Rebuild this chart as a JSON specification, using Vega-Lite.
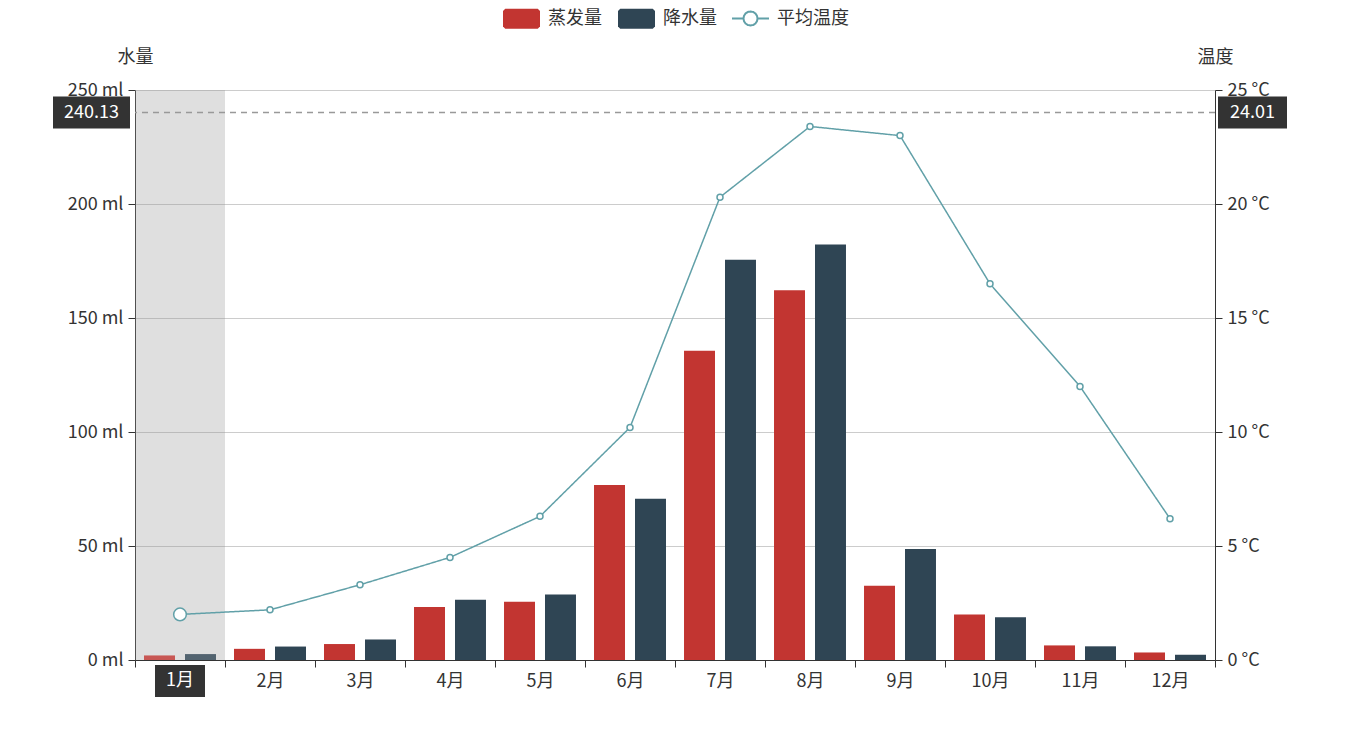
{
  "$schema": "https://vega.github.io/schema/vega-lite/v6.json",
  "width": 1080,
  "height": 570,
  "autosize": {"type": "none"},
  "padding": {"left": 135, "top": 90, "right": 135, "bottom": 90},
  "background": "white",
  "config": {
    "font": "Noto Sans CJK SC",
    "view": {"stroke": null},
    "axis": {
      "zindex": 0,
      "labelFont": "Noto Sans CJK SC",
      "labelFontSize": 18,
      "labelColor": "#333",
      "titleFont": "Noto Sans CJK SC",
      "titleFontSize": 18,
      "titleFontWeight": "normal",
      "titleColor": "#333",
      "domainColor": "#333",
      "tickColor": "#333",
      "tickSize": 7,
      "labelPadding": 5,
      "gridColor": "#cccccc"
    },
    "axisX": {"grid": false, "labelAngle": 0, "tickBand": "extent"},
    "axisY": {"titleAngle": 0, "titleX": 0, "titleY": -33, "titleAlign": "center", "titleBaseline": "middle"},
    "axisLeft": {"grid": true},
    "axisRight": {"grid": false}
  },
  "data": {
    "values": [
      {"month": "1月", "蒸发量": 2.0, "降水量": 2.6, "平均温度": 2.0},
      {"month": "2月", "蒸发量": 4.9, "降水量": 5.9, "平均温度": 2.2},
      {"month": "3月", "蒸发量": 7.0, "降水量": 9.0, "平均温度": 3.3},
      {"month": "4月", "蒸发量": 23.2, "降水量": 26.4, "平均温度": 4.5},
      {"month": "5月", "蒸发量": 25.6, "降水量": 28.7, "平均温度": 6.3},
      {"month": "6月", "蒸发量": 76.7, "降水量": 70.7, "平均温度": 10.2},
      {"month": "7月", "蒸发量": 135.6, "降水量": 175.6, "平均温度": 20.3},
      {"month": "8月", "蒸发量": 162.2, "降水量": 182.2, "平均温度": 23.4},
      {"month": "9月", "蒸发量": 32.6, "降水量": 48.7, "平均温度": 23.0},
      {"month": "10月", "蒸发量": 20.0, "降水量": 18.8, "平均温度": 16.5},
      {"month": "11月", "蒸发量": 6.4, "降水量": 6.0, "平均温度": 12.0},
      {"month": "12月", "蒸发量": 3.3, "降水量": 2.3, "平均温度": 6.2}
    ]
  },
  "layer": [
    {
      "layer": [
        {
          "transform": [{"filter": "datum.month === '1月'"}],
          "mark": {"type": "rect", "color": "#969696", "opacity": 0.3},
          "encoding": {
            "x": {"field": "month", "type": "nominal", "sort": null, "title": null, "scale": {"paddingInner": 0, "paddingOuter": 0}},
            "y": {"datum": 0, "type": "quantitative", "scale": {"domain": [0, 250]}, "title": "水量"},
            "y2": {"datum": 250}
          }
        },
        {
          "transform": [{"fold": ["蒸发量", "降水量"], "as": ["series", "value"]}],
          "mark": {"type": "bar"},
          "encoding": {
            "x": {"field": "month", "type": "nominal", "sort": null, "title": null, "scale": {"paddingInner": 0, "paddingOuter": 0}},
            "xOffset": {"field": "series", "type": "nominal", "scale": {"domain": ["蒸发量", "降水量"], "paddingInner": 0.244, "paddingOuter": 0.22}},
            "y": {
              "field": "value", "type": "quantitative",
              "scale": {"domain": [0, 250]},
              "title": "水量",
              "axis": {"values": [0, 50, 100, 150, 200, 250], "labelExpr": "datum.value + ' ml'", "orient": "left"}
            },
            "color": {
              "field": "series", "type": "nominal",
              "scale": {"domain": ["蒸发量", "降水量"], "range": ["#c23531", "#2f4554"]},
              "legend": {
                "orient": "none",
                "legendX": 367,
                "legendY": -91,
                "direction": "horizontal",
                "title": null,
                "padding": 0,
                "symbolSize": 1369,
                "symbolType": "M-0.88,-0.54H0.88L1,-0.42V0.42L0.88,0.54H-0.88L-1,0.42V-0.42Z",
                "symbolOpacity": 1,
                "labelFont": "Noto Sans CJK SC",
                "labelFontSize": 18,
                "labelColor": "#333",
                "labelOffset": 7,
                "columnPadding": 15
              }
            },
            "opacity": {"condition": {"test": "datum.month === '1月'", "value": 0.8}, "value": 1}
          }
        },
        {
          "data": {"values": [{"month": "1月", "water": 240.13, "temp": 24.01}]},
          "mark": {"type": "rule", "color": "#999", "strokeWidth": 1.5, "strokeDash": [6, 5]},
          "encoding": {
            "y": {"field": "water", "type": "quantitative", "scale": {"domain": [0, 250]}, "title": "水量"}
          }
        },
        {
          "data": {"values": [{"month": "1月", "water": 240.13, "temp": 24.01}]},
          "mark": {"type": "point", "filled": true, "color": "#333", "opacity": 1, "size": 400, "shape": "M-12.7,-1.6H-5V1.6H-12.7Z"},
          "encoding": {
            "x": {"field": "month", "type": "nominal", "sort": null, "title": null},
            "y": {"field": "water", "type": "quantitative", "scale": {"domain": [0, 250]}, "title": "水量"}
          }
        },
        {
          "data": {"values": [{"month": "1月", "water": 240.13, "temp": 24.01}]},
          "mark": {"type": "text", "color": "white", "fontSize": 18, "align": "center", "baseline": "middle", "dx": -88.5},
          "encoding": {
            "x": {"field": "month", "type": "nominal", "sort": null, "title": null},
            "y": {"field": "water", "type": "quantitative", "scale": {"domain": [0, 250]}, "title": "水量"},
            "text": {"field": "water", "type": "quantitative", "format": ".2f"}
          }
        },
        {
          "data": {"values": [{"month": "1月", "water": 240.13, "temp": 24.01}]},
          "mark": {"type": "point", "filled": true, "color": "#333", "opacity": 1, "size": 400, "shape": "M4.8,-1.6H11.7V1.6H4.8Z"},
          "encoding": {
            "x": {"datum": "12月", "type": "nominal", "title": null},
            "y": {"field": "water", "type": "quantitative", "scale": {"domain": [0, 250]}, "title": "水量"}
          }
        },
        {
          "data": {"values": [{"month": "1月", "water": 240.13, "temp": 24.01}]},
          "mark": {"type": "text", "color": "white", "fontSize": 18, "align": "center", "baseline": "middle", "dx": 82.5},
          "encoding": {
            "x": {"datum": "12月", "type": "nominal", "title": null},
            "y": {"field": "water", "type": "quantitative", "scale": {"domain": [0, 250]}, "title": "水量"},
            "text": {"field": "temp", "type": "quantitative", "format": ".2f"}
          }
        },
        {
          "data": {"values": [{"month": "1月", "water": 240.13, "temp": 24.01}]},
          "mark": {"type": "point", "filled": true, "color": "#333", "opacity": 1, "size": 400, "shape": "M-2.5,0.5H2.5V3.7H-2.5Z"},
          "encoding": {
            "x": {"field": "month", "type": "nominal", "sort": null, "title": null},
            "y": {"datum": 0, "type": "quantitative", "scale": {"domain": [0, 250]}, "title": "水量"}
          }
        },
        {
          "data": {"values": [{"month": "1月", "water": 240.13, "temp": 24.01}]},
          "mark": {"type": "text", "color": "white", "fontSize": 18, "align": "center", "baseline": "middle", "dy": 21},
          "encoding": {
            "x": {"field": "month", "type": "nominal", "sort": null, "title": null},
            "y": {"datum": 0, "type": "quantitative", "scale": {"domain": [0, 250]}, "title": "水量"},
            "text": {"field": "month", "type": "nominal"}
          }
        }
      ]
    },
    {
      "layer": [
        {
          "mark": {"type": "line", "color": "#61a0a8", "strokeWidth": 1.5},
          "encoding": {
            "x": {"field": "month", "type": "nominal", "sort": null, "title": null},
            "y": {
              "field": "平均温度", "type": "quantitative",
              "scale": {"domain": [0, 25]},
              "title": "温度",
              "axis": {"values": [0, 5, 10, 15, 20, 25], "labelExpr": "datum.value + ' °C'", "orient": "right"}
            },
            "strokeDash": {
              "datum": "平均温度", "type": "nominal",
              "scale": {"domain": ["平均温度"], "range": [[1, 0]]},
              "legend": {
                "orient": "none",
                "legendX": 596,
                "legendY": -91,
                "direction": "horizontal",
                "title": null,
                "padding": 0,
                "symbolSize": 1369,
                "symbolType": "M-1,0H-0.38M1,0H0.38M0.38,0L0.351,0.145L0.269,0.269L0.145,0.351L0,0.38L-0.145,0.351L-0.269,0.269L-0.351,0.145L-0.38,0L-0.351,-0.145L-0.269,-0.269L-0.145,-0.351L0,-0.38L0.145,-0.351L0.269,-0.269L0.351,-0.145Z",
                "symbolStrokeColor": "#61a0a8",
                "symbolFillColor": "#ffffff",
                "symbolStrokeWidth": 2,
                "symbolOpacity": 1,
                "labelFont": "Noto Sans CJK SC",
                "labelFontSize": 18,
                "labelColor": "#333",
                "labelOffset": 7
              }
            }
          }
        },
        {
          "transform": [{"filter": "datum.month !== '1月'"}],
          "mark": {"type": "point", "filled": false, "fill": "white", "color": "#61a0a8", "opacity": 1, "size": 36, "strokeWidth": 1.5},
          "encoding": {
            "x": {"field": "month", "type": "nominal", "sort": null, "title": null},
            "y": {"field": "平均温度", "type": "quantitative", "scale": {"domain": [0, 25]}, "title": "温度"}
          }
        },
        {
          "transform": [{"filter": "datum.month === '1月'"}],
          "mark": {"type": "point", "filled": false, "fill": "white", "color": "#61a0a8", "opacity": 1, "size": 160, "strokeWidth": 1.5},
          "encoding": {
            "x": {"field": "month", "type": "nominal", "sort": null, "title": null},
            "y": {"field": "平均温度", "type": "quantitative", "scale": {"domain": [0, 25]}, "title": "温度"}
          }
        }
      ]
    }
  ],
  "resolve": {"scale": {"y": "independent"}}
}
